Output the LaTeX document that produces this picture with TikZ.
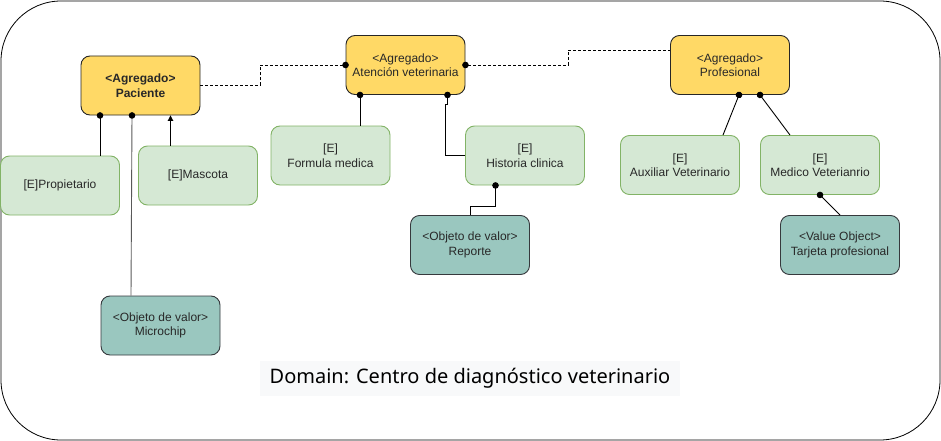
\documentclass[tikz,border=0pt]{standalone}
\usepackage{fontspec}
\setmainfont{Liberation Sans}
\newfontfamily\domfont{Noto Sans}
\usetikzlibrary{arrows.meta}
\definecolor{aggyellow}{RGB}{255,217,102}
\definecolor{entgreen}{RGB}{213,232,212}
\definecolor{entborder}{RGB}{130,179,102}
\definecolor{vofill}{RGB}{154,199,191}
\definecolor{voborder}{RGB}{54,57,61}
\definecolor{txtgray}{RGB}{40,40,40}
\definecolor{dombg}{RGB}{248,249,250}
\tikzset{
  box/.style={rounded corners=9pt, minimum width=119pt, minimum height=59pt, align=center,
    inner sep=2pt, font=\fontsize{12}{14.5}\selectfont, text=txtgray, line width=0.9pt},
  agg/.style={box, fill=aggyellow, draw=black!85},
  ent/.style={box, fill=entgreen, draw=entborder},
  vo/.style={box, fill=vofill, draw=voborder},
  link/.style={line width=0.9pt},
  dotstart/.style={link, {Circle[length=6.5pt, black]}-, shorten <=-3.25pt},
  dotend/.style={link, -{Circle[length=6.5pt, black]}, shorten >=-3.25pt},
  dashlink/.style={link, dash pattern=on 3pt off 2pt}
}
\begin{document}
\begin{tikzpicture}[x=1pt, y=-1pt]
\useasboundingbox (0,0) rectangle (941,441);
\draw[line width=0.8pt, rounded corners=60pt] (1,1) rectangle (940,440);
% aggregates
\node[agg] (pac) at (140.5,85.5) {\textbf{<Agregado>}\\\textbf{Paciente}};
\node[agg] (atn) at (405.5,65) {<Agregado>\\Atención veterinaria};
\node[agg] (prof) at (730,65) {<Agregado>\\Profesional};
% entities
\node[ent] (prop) at (60,185.5) {[E]Propietario};
\node[ent] (masc) at (198,175.5) {[E]Mascota};
\node[ent] (form) at (330.5,155.5) {[E]\\Formula medica};
\node[ent] (hist) at (525,155.5) {[E]\\Historia clinica};
\node[ent] (aux) at (680,165) {[E]\\Auxiliar Veterinario};
\node[ent] (med) at (820,165) {[E]\\Medico Veterianrio};
% value objects
\node[vo] (rep) at (470,245) {<Objeto de valor>\\Reporte};
\node[vo] (tar) at (840,245) {<Value Object>\\Tarjeta profesional};
\node[vo] (micro) at (160.5,325.5) {<Objeto de valor>\\Microchip};
% domain title
\node[fill=dombg, minimum width=420pt, minimum height=35pt, inner sep=0pt] (dom) at (470,378.5)
  {\domfont\fontsize{20}{24}\selectfont Domain: Centro de diagnóstico veterinario};
% connectors
\draw[dotstart] ([xshift=-40.5pt]pac.south) -- ([xshift=-40.5pt]pac.south |- prop.north);
\draw[dotstart, draw=black!65] ([xshift=-8.5pt]pac.south) -- ([xshift=-29.5pt]micro.north);
\draw[link, -{Triangle[length=5.5pt,width=5.5pt]}] ([xshift=-27.5pt]masc.north) -- ([xshift=-27.5pt]masc.north |- pac.south);
\draw[dashlink, dotend] (pac.east) -- ++(60,0) |- (atn.west);
\draw[dashlink, dotstart] (atn.east) -- ++(103,0) |- ([yshift=15pt]prof.west);
\draw[dotstart] ([xshift=-45.5pt]atn.south) -- ([xshift=-45.5pt]atn.south |- form.north);
\draw[dotstart] ([xshift=42pt]atn.south) -- ++(0,10) -- ++(-2,0) |- (hist.west);
\draw[dotstart] ([xshift=-29.5pt]hist.south) -- ++(0,21) -| (rep.north);
\draw[dotstart] ([xshift=9pt]prof.south) -- ([xshift=43pt]aux.north);
\draw[dotstart] ([xshift=30pt]prof.south) -- ([xshift=-30pt]med.north);
\draw[dotstart] (med.south) -- (tar.north);
\end{tikzpicture}
\end{document}
